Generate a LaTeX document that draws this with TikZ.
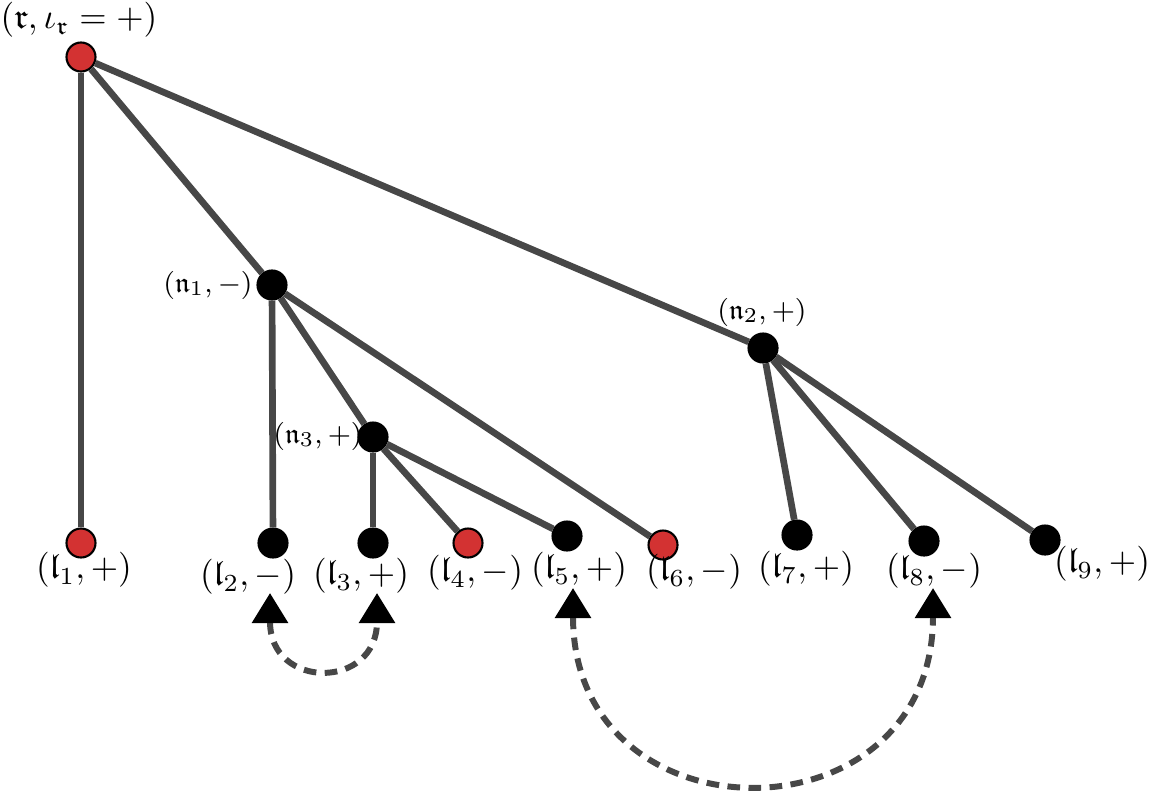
\documentclass[tikz,border=0pt]{standalone}
\usepackage{amsmath, amssymb}
\usepackage{xcolor}
\usepackage{tikz}
\usetikzlibrary{arrows.meta}

\definecolor{edgegray}{HTML}{474747}
\definecolor{nodered}{HTML}{D33232}

\begin{document}
\begin{tikzpicture}[every node/.style={circle, draw, inner sep=0pt,
        minimum size=2.9mm, line width=0.6pt},
        lab/.style={rectangle, draw=none, inner sep=0pt, minimum size=0pt},
        edge/.style={edgegray, line width=1.9pt},
        swap/.style={edgegray, line width=1.7pt, dash pattern=on 3.6pt off 2.4pt,
        {Triangle[width=3.5mm,length=3mm,black]}-{Triangle[width=3.5mm,length=3mm,black]}}]
        \useasboundingbox (0,0) rectangle (11.5,-7.91);

        \node[fill = nodered] (R) at (0.81,-0.57) {};
        \node[fill = black] (N1) at (2.72,-2.85) {};
        \node[fill = black] (N2) at (7.63,-3.48) {};
        \node[fill = black] (N3) at (3.73,-4.37) {};
        \node[fill = nodered] (L1) at (0.81,-5.43) {};
        \node[fill = black] (L2) at (2.73,-5.43) {};
        \node[fill = black] (L3) at (3.73,-5.43) {};
        \node[fill = nodered] (L4) at (4.68,-5.43) {};
        \node[fill = black] (L5) at (5.67,-5.36) {};
        \node[fill = nodered] (L6) at (6.63,-5.45) {};
        \node[fill = black] (L7) at (7.97,-5.35) {};
        \node[fill = black] (L8) at (9.24,-5.41) {};
        \node[fill = black] (L9) at (10.45,-5.40) {};

        \draw[edge] (R) -- (L1);
        \draw[edge] (R) -- (N1);
        \draw[edge] (R) -- (N2);
        \draw[edge] (N1) -- (L2);
        \draw[edge] (N1) -- (N3);
        \draw[edge] (N1) -- (L6);
        \draw[edge] (N3) -- (L3);
        \draw[edge] (N3) -- (L4);
        \draw[edge] (N3) -- (L5);
        \draw[edge] (N2) -- (L7);
        \draw[edge] (N2) -- (L8);
        \draw[edge] (N2) -- (L9);

        \node[lab] (Rlab) at (0.79,-0.2) {$(\mathfrak{r}, \iota_{\mathfrak{r}} = +)$};
        \node[lab, font=\footnotesize] (N1lab) at (2.08,-2.85) {$(\mathfrak{n}_1, -)$};
        \node[lab, font=\footnotesize] (N2lab) at (7.62,-3.12) {$(\mathfrak{n}_2, +)$};
        \node[lab, font=\footnotesize] (N3lab) at (3.18,-4.36) {$(\mathfrak{n}_3, +)$};
        \node[lab] (L1lab) at (0.84,-5.70) {$(\mathfrak{l}_1, +)$};
        \node[lab] (L2lab) at (2.48,-5.77) {$(\mathfrak{l}_2, -)$};
        \node[lab] (L3lab) at (3.61,-5.76) {$(\mathfrak{l}_3, +)$};
        \node[lab] (L4lab) at (4.75,-5.73) {$(\mathfrak{l}_4, -)$};
        \node[lab] (L5lab) at (5.79,-5.70) {$(\mathfrak{l}_5, +)$};
        \node[lab] (L6lab) at (6.94,-5.72) {$(\mathfrak{l}_6, -)$};
        \node[lab] (L7lab) at (8.06,-5.69) {$(\mathfrak{l}_7, +)$};
        \node[lab] (L8lab) at (9.34,-5.71) {$(\mathfrak{l}_8, -)$};
        \node[lab] (L9lab) at (11.02,-5.64) {$(\mathfrak{l}_9, +)$};

        \coordinate (S2) at (2.70,-5.93);
        \coordinate (S3) at (3.77,-5.93);
        \coordinate (S5) at (5.73,-5.88);
        \coordinate (S8) at (9.33,-5.88);

        \draw[swap] (S2) .. controls (2.70,-6.9) and (3.77,-6.9) .. (S3);
        \draw[swap] (S5) .. controls (5.73,-8.45) and (9.33,-8.45) .. (S8);
    \end{tikzpicture}
\end{document}
